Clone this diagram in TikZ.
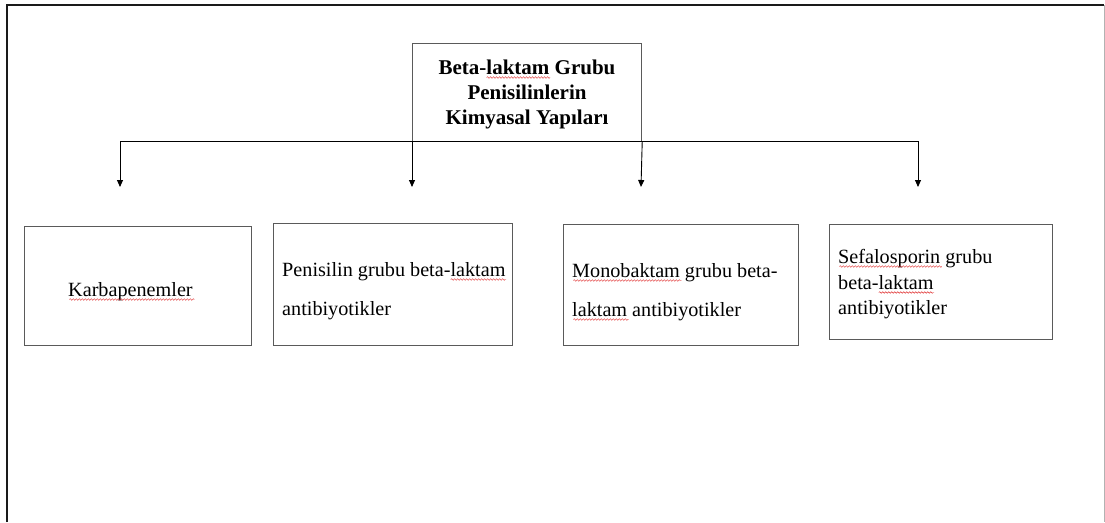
\documentclass[tikz,border=0pt]{standalone}
\usepackage{fontspec}
\setmainfont{Liberation Serif}
\usetikzlibrary{arrows.meta,calc,decorations.pathmorphing}

\definecolor{boxline}{HTML}{5A5A5A}
\definecolor{frameline}{HTML}{1A1A1A}
\definecolor{spellred}{HTML}{E03030}

% wavy red underline below one word of a text line
\newcommand\wavyword[4]{%
  \node[lbl, font=#2] (#1-pre) at (#1.base west) {\phantom{#3}};
  \node[lbl, font=#2] (#1-w) at (#1-pre.base east) {\phantom{#4}};
  \draw[squig] ($(#1-w.base west)+(0,3.5)$) -- ($(#1-w.base east)+(0,3.5)$);
}

\begin{document}
\begin{tikzpicture}[x=1pt,y=-1pt,
  txt/.style={font=\fontsize{20.2}{25}\selectfont},
  ttl/.style={font=\bfseries\fontsize{21}{25}\selectfont},
  lbl/.style={inner sep=0pt, anchor=base west, text=black},
  box/.style={draw=boxline, line width=1.2pt, inner sep=0pt, anchor=north west, fill=white},
  link/.style={draw=black, line width=0.9pt},
  arrowlink/.style={link, -{Triangle[length=7pt,width=6pt]}},
  squig/.style={draw=spellred, line width=0.45pt, decorate,
                decoration={snake, amplitude=0.8pt, segment length=3pt}}]

\useasboundingbox (0,0) rectangle (1105,522);

% page frame
\draw[frameline, line width=1.8pt] (7,522) -- (7,5) -- (1104,5);
\draw[black!30, line width=1pt] (1104,5) -- (1104,522);

% boxes
\node[box, minimum width=229pt, minimum height=98pt]  (top) at (412,43)  {};
\node[box, minimum width=227pt, minimum height=119pt] (kb)  at (24,226)  {};
\node[box, minimum width=239pt, minimum height=122pt] (pen) at (273,223) {};
\node[box, minimum width=235pt, minimum height=121pt] (mono) at (563,224) {};
\node[box, minimum width=223pt, minimum height=115pt] (sef) at (829,224) {};

% connectors
\coordinate (h1) at (120,141);
\coordinate (h4) at (918,141);
\coordinate (a1) at (120,187);
\coordinate (a2) at (412,187);
\coordinate (a3) at (641,187);
\coordinate (a4) at (918,187);
\draw[link] (h1) -- (h4);
\draw[arrowlink] (h1) -- (a1);
\draw[arrowlink] (top.south west) -- (a2);
\draw[arrowlink] (top.south east) -- (a3);
\draw[arrowlink] (h4) -- (a4);

% title
\node[ttl, inner sep=0pt, anchor=base] (t1) at (527,74)  {Beta-laktam Grubu};
\node[ttl, inner sep=0pt, anchor=base] (t2) at (527,99)  {Penisilinlerin};
\node[ttl, inner sep=0pt, anchor=base] (t3) at (527,124) {Kimyasal Yapıları};

% box texts
\node[txt, lbl] (k1) at (68,296)  {Karbapenemler};
\node[txt, lbl] (p1) at (282,276) {Penisilin grubu beta-laktam};
\node[txt, lbl] (p2) at (282,315) {antibiyotikler};
\node[txt, lbl] (m1) at (572,277) {Monobaktam grubu beta-};
\node[txt, lbl] (m2) at (572,316) {laktam antibiyotikler};
\node[txt, lbl] (s1) at (838,263) {Sefalosporin grubu};
\node[txt, lbl] (s2) at (838,289) {beta-laktam};
\node[txt, lbl] (s3) at (838,314) {antibiyotikler};

% spell-check underlines
\wavyword{t1}{\bfseries\fontsize{21}{25}\selectfont}{Beta-}{laktam}
\wavyword{k1}{\fontsize{20.2}{25}\selectfont}{}{Karbapenemler}
\wavyword{p1}{\fontsize{20.2}{25}\selectfont}{Penisilin grubu beta-}{laktam}
\wavyword{m1}{\fontsize{20.2}{25}\selectfont}{}{Monobaktam}
\wavyword{m2}{\fontsize{20.2}{25}\selectfont}{}{laktam}
\wavyword{s1}{\fontsize{20.2}{25}\selectfont}{}{Sefalosporin}
\wavyword{s2}{\fontsize{20.2}{25}\selectfont}{beta-}{laktam}

\end{tikzpicture}
\end{document}
